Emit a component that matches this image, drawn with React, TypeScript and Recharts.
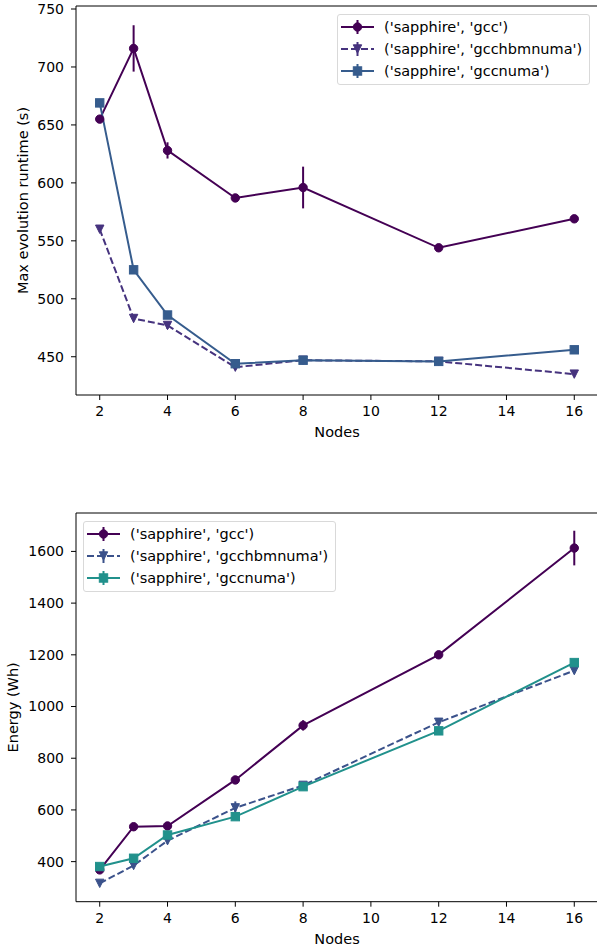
import React from "react";
import {
    LineChart,
    Line,
    XAxis,
    YAxis,
    ErrorBar,
    Legend,
    ReferenceArea,
} from "recharts";

const nodes = [2, 3, 4, 6, 8, 12, 16];
const xTicks = [2, 4, 6, 8, 10, 12, 14, 16];
const seriesNames = ["('sapphire', 'gcc')", "('sapphire', 'gcchbmnuma')", "('sapphire', 'gccnuma')"];

// runtime (s)
const runtimeGcc = [655, 716, 628, 587, 596, 544, 569];
const runtimeGccErr = [3, 20, 7, 2, 18, 2, 2];
const runtimeHbm = [560, 483, 477, 441, 447, 446, 435];
const runtimeHbmErr = [2, 2, 3, 2, 2, 2, 2];
const runtimeNuma = [669, 525, 486, 444, 447, 446, 456];
const runtimeNumaErr = [2, 2, 2, 2, 2, 2, 2];
const runtimeTicks = [450, 500, 550, 600, 650, 700, 750];

// energy (Wh)
const energyGcc = [368, 535, 538, 716, 927, 1200, 1613];
const energyGccErr = [5, 5, 8, 5, 20, 5, 67];
const energyHbm = [316, 385, 481, 608, 695, 939, 1139];
const energyHbmErr = [5, 5, 10, 25, 8, 8, 10];
const energyNuma = [381, 413, 503, 574, 690, 906, 1170];
const energyNumaErr = [4, 4, 6, 5, 5, 5, 6];
const energyTicks = [400, 600, 800, 1000, 1200, 1400, 1600];

const FONT = "'DejaVu Sans', sans-serif";
const X_DOMAIN: [number, number] = [1.3, 16.7];

type Shape = "circle" | "tri" | "square";

function Marker({ shape, x, y, color }: { shape: Shape; x: number; y: number; color: string }) {
    if (shape === "circle") {
        return <circle cx={x} cy={y} r={4.2} fill={color} stroke={color} strokeWidth={1} />;
    }
    if (shape === "square") {
        return <rect x={x - 4.2} y={y - 4.2} width={8.4} height={8.4} fill={color} stroke={color} strokeWidth={1} />;
    }
    const h = 4.2;
    return (
        <polygon
            points={`${x - h},${y - h} ${x + h},${y - h} ${x},${y + h}`}
            fill={color}
            stroke={color}
            strokeWidth={1}
        />
    );
}

function makeDot(shape: Shape, color: string) {
    return (props: any) => {
        const { cx, cy, index } = props;
        if (cx == null || cy == null) return <g key={`e-${index}`} />;
        return <Marker key={`m-${index}`} shape={shape} x={cx} y={cy} color={color} />;
    };
}

function buildRows(a: number[], ae: number[], b: number[], be: number[], c: number[], ce: number[]) {
    return nodes.map((n, i) => ({ n, a: a[i], ae: ae[i], b: b[i], be: be[i], c: c[i], ce: ce[i] }));
}

interface PanelProps {
    rows: Array<Record<string, number>>;
    colors: string[];
    yDomain: [number, number];
    yTicks: number[];
    yLabel: string;
    yLabelX: number;
    height: number;
    marginTop: number;
    xAxisHeight: number;
    legendLeft: number;
    legendTop: number;
}

function LegendBox({ colors }: { colors: string[] }) {
    const shapes: Shape[] = ["circle", "tri", "square"];
    return (
        <div
            style={{
                width: 253,
                height: 71,
                paddingTop: 1,
                boxSizing: "border-box",
                border: "1px solid #d9d9d9",
                borderRadius: 3,
                background: "rgba(255,255,255,0.8)",
                fontFamily: FONT,
                fontSize: 14.5,
                color: "#000",
            }}
        >
            {seriesNames.map((name, i) => (
                <div key={name} style={{ height: 22, display: "flex", alignItems: "center" }}>
                    <svg width={46} height={22} style={{ flex: "none" }}>
                        <line
                            x1={3}
                            x2={36}
                            y1={11}
                            y2={11}
                            stroke={colors[i]}
                            strokeWidth={2}
                            strokeDasharray={i === 1 ? "7 3" : undefined}
                        />
                        <line x1={19.5} x2={19.5} y1={4} y2={18} stroke={colors[i]} strokeWidth={2} />
                        <Marker shape={shapes[i]} x={19.5} y={11} color={colors[i]} />
                    </svg>
                    <span style={{ whiteSpace: "nowrap" }}>{name}</span>
                </div>
            ))}
        </div>
    );
}

function Panel({
    rows,
    colors,
    yDomain,
    yTicks,
    yLabel,
    yLabelX,
    height,
    marginTop,
    xAxisHeight,
    legendLeft,
    legendTop,
}: PanelProps) {
    const tick = { fill: "#000", fontSize: 14, fontFamily: FONT };
    return (
        <LineChart width={598} height={height} data={rows} margin={{ top: marginTop, right: 0, left: 0, bottom: 0 }}>
            <ReferenceArea
                x1={X_DOMAIN[0]}
                x2={X_DOMAIN[1]}
                y1={yDomain[0]}
                y2={yDomain[1]}
                fill="none"
                stroke="#000"
                strokeWidth={1}
                ifOverflow="visible"
            />
            <XAxis
                dataKey="n"
                type="number"
                domain={X_DOMAIN}
                ticks={xTicks}
                allowDataOverflow
                axisLine={false}
                tickLine={{ stroke: "#000" }}
                tickSize={5}
                tickMargin={6}
                tick={tick}
                height={xAxisHeight}
                label={(p: any) => {
                    const vb = p.viewBox;
                    return (
                        <text
                            x={vb.x + vb.width / 2}
                            y={vb.y + 37}
                            textAnchor="middle"
                            dominantBaseline="central"
                            fontSize={14.5}
                            fontFamily={FONT}
                            fill="#000"
                        >
                            Nodes
                        </text>
                    );
                }}
            />
            <YAxis
                type="number"
                domain={yDomain}
                ticks={yTicks}
                allowDataOverflow
                axisLine={false}
                tickLine={{ stroke: "#000" }}
                tickSize={5}
                tickMargin={7}
                tick={tick}
                width={76}
                label={(p: any) => {
                    const vb = p.viewBox;
                    const cx = vb.x + yLabelX;
                    const cy = vb.y + vb.height / 2;
                    return (
                        <text
                            x={cx}
                            y={cy}
                            transform={`rotate(-90, ${cx}, ${cy})`}
                            textAnchor="middle"
                            dominantBaseline="central"
                            fontSize={14.5}
                            fontFamily={FONT}
                            fill="#000"
                        >
                            {yLabel}
                        </text>
                    );
                }}
            />
            <Line
                dataKey="a"
                stroke={colors[0]}
                strokeWidth={2}
                dot={makeDot("circle", colors[0])}
                activeDot={false}
                isAnimationActive={false}
            >
                <ErrorBar dataKey="ae" direction="y" width={0} stroke={colors[0]} strokeWidth={2} />
            </Line>
            <Line
                dataKey="b"
                stroke={colors[1]}
                strokeWidth={2}
                strokeDasharray="7 3"
                dot={makeDot("tri", colors[1])}
                activeDot={false}
                isAnimationActive={false}
            >
                <ErrorBar dataKey="be" direction="y" width={0} stroke={colors[1]} strokeWidth={2} />
            </Line>
            <Line
                dataKey="c"
                stroke={colors[2]}
                strokeWidth={2}
                dot={makeDot("square", colors[2])}
                activeDot={false}
                isAnimationActive={false}
            >
                <ErrorBar dataKey="ce" direction="y" width={0} stroke={colors[2]} strokeWidth={2} />
            </Line>
            <Legend
                layout="vertical"
                align="center"
                verticalAlign="middle"
                wrapperStyle={{ left: legendLeft, top: legendTop, width: 253, height: 71 }}
                content={() => <LegendBox colors={colors} />}
            />
        </LineChart>
    );
}

const runtimeRows = buildRows(runtimeGcc, runtimeGccErr, runtimeHbm, runtimeHbmErr, runtimeNuma, runtimeNumaErr);
const energyRows = buildRows(energyGcc, energyGccErr, energyHbm, energyHbmErr, energyNuma, energyNumaErr);

export default function App() {
    return (
        <div
            style={{
                position: "absolute",
                left: 0,
                top: 0,
                width: 597,
                height: 947,
                overflow: "hidden",
                background: "#fff",
                fontFamily: FONT,
            }}
        >
            <div style={{ position: "absolute", left: 0, top: 0 }}>
                <Panel
                    rows={runtimeRows}
                    colors={["#440154", "#46337e", "#365c8d"]}
                    yDomain={[417, 752.6]}
                    yTicks={runtimeTicks}
                    yLabel="Max evolution runtime (s)"
                    yLabelX={23}
                    height={460}
                    marginTop={6}
                    xAxisHeight={65}
                    legendLeft={337}
                    legendTop={14}
                />
            </div>
            <div style={{ position: "absolute", left: 0, top: 480 }}>
                <Panel
                    rows={energyRows}
                    colors={["#440154", "#3b528b", "#21918c"]}
                    yDomain={[245, 1748.6]}
                    yTicks={energyTicks}
                    yLabel="Energy (Wh)"
                    yLabelX={13}
                    height={467}
                    marginTop={33}
                    xAxisHeight={45.3}
                    legendLeft={83}
                    legendTop={41}
                />
            </div>
        </div>
    );
}
